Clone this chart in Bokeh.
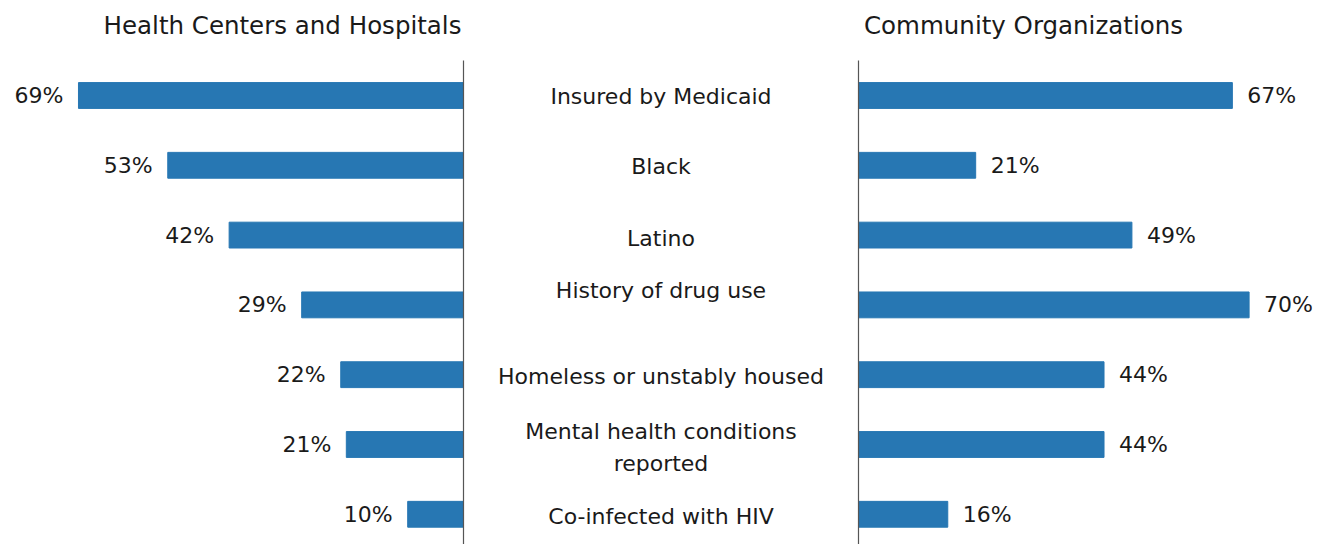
from bokeh.plotting import figure
from bokeh.layouts import row
from bokeh.models import Range1d, ColumnDataSource, Label
from bokeh.core.properties import value
from bokeh.embed import file_html
from bokeh.resources import INLINE

categories = ["Insured by Medicaid", "Black", "Latino", "History of drug use",
              "Homeless or unstably housed", "Mental health conditions\nreported",
              "Co-infected with HIV"]
health_centers = [69, 53, 42, 29, 22, 21, 10]
community_orgs = [67, 21, 49, 70, 44, 44, 16]
left_title = "Health Centers and Hospitals"
right_title = "Community Organizations"

FONT = "DejaVu Sans"
FS = "22px"
TXT = "#1a1a1a"
BAR = "#2777b3"
H = 544
PX = 5.58
yr = (6.433, -1.361)
idx = list(range(len(categories)))

def base(w, xr):
    p = figure(width=w, height=H, x_range=xr, y_range=Range1d(*yr),
               output_backend="svg", toolbar_location=None, min_border=0,
               outline_line_color=None)
    p.axis.visible = False
    p.grid.visible = False
    p.background_fill_color = None
    p.border_fill_color = None
    return p

# left panel: page x 0..465, axis at 463
lp = base(465, Range1d(463 / PX, -2 / PX))
src_l = ColumnDataSource(dict(y=idx, v=health_centers, t=[f"{v}%" for v in health_centers]))
lp.hbar(y="y", left=0, right="v", height=0.37, source=src_l, color=BAR)
lp.text(x="v", y="y", text="t", source=src_l, x_offset=-15, text_align="right",
        text_baseline="middle", text_font=value(FONT), text_font_size=FS, text_color=TXT)
lp.segment(x0=[0], y0=[-0.5], x1=[0], y1=[yr[0]], line_color="#555555", line_width=1.2)
lp.add_layout(Label(x=282, y=-1.0, x_units="screen",
                    text=left_title, text_align="center", text_baseline="middle",
                    text_font=FONT, text_font_size="24.5px", text_color=TXT))

# center labels: page x 465..856
cp = base(391, Range1d(0, 391))
offs = [1, 1, 3, -14, 2, 3, 2]
src_c = ColumnDataSource(dict(x=[660.5 - 465] * len(idx),
                              y=[i + o / 69.8 for i, o in zip(idx, offs)], t=categories))
cp.text(x="x", y="y", text="t", source=src_c, text_align="center", text_baseline="middle",
        text_font=value(FONT), text_font_size=FS, text_color=TXT, text_line_height=1.25)

# right panel: page x 856..1329, axis at 858
rp = base(473, Range1d(-2 / PX, 471 / PX))
src_r = ColumnDataSource(dict(y=idx, v=community_orgs, t=[f"{v}%" for v in community_orgs]))
rp.hbar(y="y", left=0, right="v", height=0.37, source=src_r, color=BAR)
rp.text(x="v", y="y", text="t", source=src_r, x_offset=15, text_align="left",
        text_baseline="middle", text_font=value(FONT), text_font_size=FS, text_color=TXT)
rp.segment(x0=[0], y0=[-0.5], x1=[0], y1=[yr[0]], line_color="#555555", line_width=1.2)
rp.add_layout(Label(x=1023 - 856, y=-1.0, x_units="screen",
                    text=right_title, text_align="center", text_baseline="middle",
                    text_font=FONT, text_font_size="24.5px", text_color=TXT))

layout = row(lp, cp, rp, spacing=0)
open("out.html", "w").write(file_html(layout, INLINE))
